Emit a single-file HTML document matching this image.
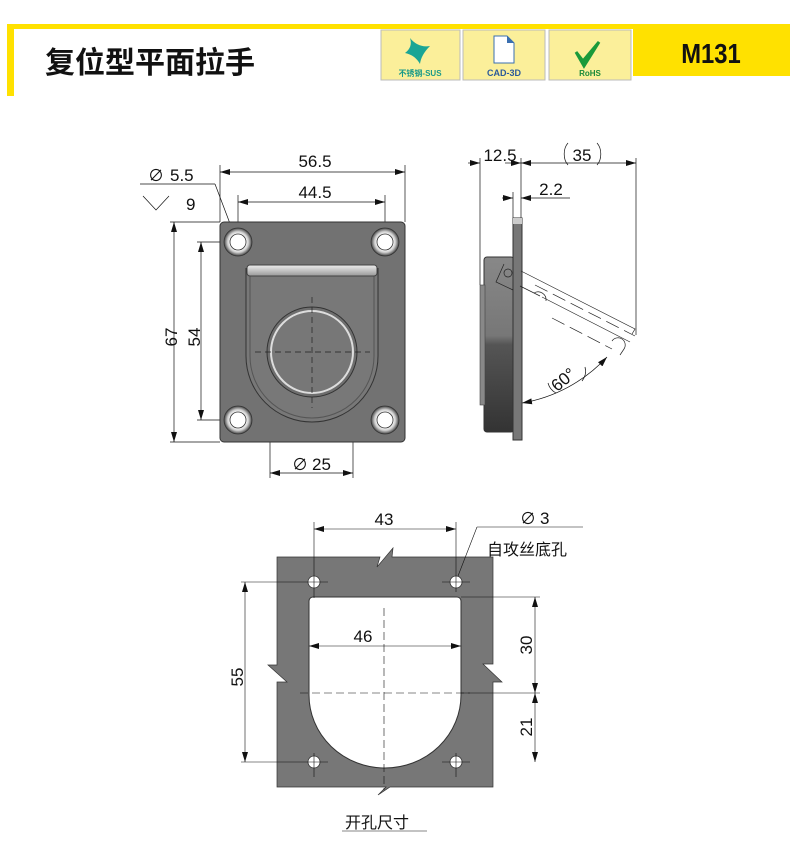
<!DOCTYPE html>
<html><head><meta charset="utf-8"><style>
html,body{margin:0;padding:0;background:#fff;}
svg{display:block;}
text{font-family:"Liberation Sans","Noto Sans CJK SC",sans-serif;fill:#111;}
</style></head><body>
<svg width="790" height="860" viewBox="0 0 790 860" xmlns="http://www.w3.org/2000/svg">
<defs>
<marker id="a" viewBox="0 0 10 6" refX="10" refY="3" markerWidth="10" markerHeight="6" orient="auto-start-reverse" markerUnits="userSpaceOnUse"><path d="M0,0L10,3L0,6z" fill="#111"/></marker>
<linearGradient id="bar" x1="0" y1="0" x2="0" y2="1"><stop offset="0" stop-color="#eee"/><stop offset="1" stop-color="#999"/></linearGradient>
<linearGradient id="body" x1="0" y1="0" x2="0" y2="1"><stop offset="0" stop-color="#888"/><stop offset="0.45" stop-color="#777"/><stop offset="0.5" stop-color="#555"/><stop offset="1" stop-color="#333"/></linearGradient>
<radialGradient id="hole"><stop offset="0.55" stop-color="#fff"/><stop offset="0.75" stop-color="#ccc"/><stop offset="1" stop-color="#444"/></radialGradient>
</defs>
<!-- header -->
<rect x="7" y="24" width="783" height="5" fill="#ffe100"/>
<rect x="7" y="24" width="7" height="72" fill="#ffe100"/>
<text x="45" y="73" font-size="30" font-weight="bold" style="font-family:'Noto Sans CJK SC',sans-serif">复位型平面拉手</text>
<rect x="381" y="30" width="79" height="50" fill="#fbef9a" stroke="#bbb"/>
<rect x="463" y="30" width="82" height="50" fill="#fbef9a" stroke="#bbb"/>
<rect x="549" y="30" width="82" height="50" fill="#fbef9a" stroke="#bbb"/>
<path d="M410,38 Q418,48 430,46 Q421,55 420,64 Q415,55 405,53 Q413,47 410,38z" fill="#1aa595"/>
<text x="420" y="76" font-size="8" text-anchor="middle" style="fill:#1a9a8a;font-weight:bold">不锈钢-SUS</text>
<path d="M494,36h13l7,7v20h-20z" fill="#fff" stroke="#3a6fb0"/><path d="M507,36l7,7h-7z" fill="#3a6fb0"/>
<text x="504" y="76" font-size="9" font-weight="bold" text-anchor="middle" style="fill:#2b5a9a">CAD-3D</text>
<path d="M576,52l7,9l16,-19l-15,24z" fill="#1a9a3a" stroke="#1a9a3a" stroke-width="3"/>
<text x="590" y="76" font-size="8" font-weight="bold" text-anchor="middle" style="fill:#1a8a3a">RoHS</text>
<rect x="633" y="28" width="157" height="48" fill="#ffe100"/>
<text x="711" y="63" font-size="28" font-weight="bold" text-anchor="middle" transform="translate(711,0) scale(0.85,1) translate(-711,0)">M131</text>

<!-- front view -->
<g stroke="#111" stroke-width="0.7" fill="none">
<line x1="220" y1="165" x2="220" y2="222"/><line x1="405" y1="165" x2="405" y2="222"/>
<line x1="220" y1="172" x2="405" y2="172" marker-start="url(#a)" marker-end="url(#a)"/>
<line x1="238" y1="195" x2="238" y2="232"/><line x1="385" y1="195" x2="385" y2="232"/>
<line x1="238" y1="202" x2="385" y2="202" marker-start="url(#a)" marker-end="url(#a)"/>
<line x1="140" y1="184" x2="215" y2="184"/><line x1="215" y1="184" x2="240" y2="250"/>
<path d="M143,196l13,14l13,-14"/>
<line x1="170" y1="222" x2="220" y2="222"/><line x1="170" y1="442" x2="220" y2="442"/>
<line x1="174" y1="222" x2="174" y2="442" marker-start="url(#a)" marker-end="url(#a)"/>
<line x1="197" y1="242" x2="228" y2="242"/><line x1="197" y1="420" x2="228" y2="420"/>
<line x1="201" y1="242" x2="201" y2="420" marker-start="url(#a)" marker-end="url(#a)"/>
<line x1="270" y1="352" x2="270" y2="478"/><line x1="353" y1="352" x2="353" y2="478"/>
<line x1="270" y1="473" x2="353" y2="473" marker-start="url(#a)" marker-end="url(#a)"/>
</g>
<rect x="220" y="222" width="185" height="220" rx="4" fill="#727272" stroke="#333"/>
<g stroke="#333" stroke-width="0.8">
<circle cx="238" cy="242" r="14" fill="url(#hole)"/><circle cx="385" cy="242" r="14" fill="url(#hole)"/>
<circle cx="238" cy="420" r="14" fill="url(#hole)"/><circle cx="385" cy="420" r="14" fill="url(#hole)"/>
<circle cx="238" cy="242" r="8" fill="#fff"/><circle cx="385" cy="242" r="8" fill="#fff"/>
<circle cx="238" cy="420" r="8" fill="#fff"/><circle cx="385" cy="420" r="8" fill="#fff"/>
</g>
<path d="M246,268v88a66,66 0 0 0 132,0v-88" fill="#787878" stroke="#333"/>
<path d="M250,270v86a62,62 0 0 0 124,0v-86" fill="none" stroke="#555"/>
<rect x="247" y="265" width="130" height="11" rx="3" fill="url(#bar)" stroke="#444"/>
<circle cx="312" cy="352" r="45" fill="#6e6e6e" stroke="#333"/>
<circle cx="312" cy="352" r="41" fill="#777" stroke="#ddd" stroke-width="2"/>
<g stroke="#222" stroke-width="0.7" stroke-dasharray="6,4"><line x1="312" y1="297" x2="312" y2="408"/><line x1="255" y1="352" x2="370" y2="352"/></g>
<g font-size="17">
<text x="315" y="167" text-anchor="middle">56.5</text>
<text x="315" y="198" text-anchor="middle">44.5</text>
<text x="170" y="181">5.5</text>
<text x="148" y="181" font-size="16">∅</text>
<text x="186" y="210">9</text>
<text transform="translate(177,337) rotate(-90)" text-anchor="middle">67</text>
<text transform="translate(200,337) rotate(-90)" text-anchor="middle">54</text>
<text x="292" y="470" font-size="16">∅</text><text x="312" y="470">25</text>
</g>

<!-- side view -->
<g stroke="#111" stroke-width="0.7" fill="none">
<line x1="480" y1="158" x2="480" y2="285"/><line x1="521" y1="158" x2="521" y2="218"/>
<line x1="636" y1="158" x2="636" y2="335"/>
<line x1="468" y1="163" x2="480" y2="163" marker-end="url(#a)"/>
<line x1="521" y1="163" x2="636" y2="163" marker-start="url(#a)" marker-end="url(#a)"/>
<line x1="505" y1="163" x2="521" y2="163" marker-end="url(#a)"/>
<line x1="513" y1="192" x2="513" y2="218"/>
<line x1="502" y1="198" x2="513" y2="198" marker-end="url(#a)"/>
<line x1="521" y1="198" x2="570" y2="198" marker-start="url(#a)"/>
<path d="M568,143a10,14 0 0 0 0,22"/><path d="M597,143a10,14 0 0 1 0,22"/>
<path d="M522,403 A150,150 0 0 0 607,357" marker-start="url(#a)" marker-end="url(#a)"/>
<path d="M548,383a16,16 0 0 0 8,10"/><path d="M585,367a16,16 0 0 1 -3,14"/>
</g>
<rect x="484" y="257" width="30" height="175" rx="3" fill="url(#body)" stroke="#333"/>
<rect x="480" y="285" width="5" height="120" fill="#888" stroke="#444" stroke-width="0.6"/>
<rect x="513" y="218" width="9" height="222" fill="#777" stroke="#333"/>
<rect x="513" y="218" width="9" height="6" fill="#ccc"/>
<g stroke="#222" stroke-width="0.7" fill="none">
<path d="M504,264l-8,18l17,8"/>
<circle cx="508" cy="273" r="4"/>
<path d="M521,271l114,58l-3,5M520,286l20,10"/>
<path d="M542,297l88,45"/>
<path d="M535,285l100,51M552,318l60,31" stroke-dasharray="14,6"/>
<path d="M534,293a8,8 0 0 1 12,8M612,341a7,7 0 0 1 12,8l-4,6"/>
</g>
<g font-size="17">
<text x="500" y="161" text-anchor="middle">12.5</text>
<text x="582" y="161" text-anchor="middle">35</text>
<text x="551" y="195" text-anchor="middle">2.2</text>
<text transform="translate(567,384) rotate(-40)" text-anchor="middle">60°</text>
</g>

<!-- cutout -->
<path d="M277,557H380L377,567L393,548L392,557H493V664H483L502,682H493V787H390L378,795L386,787H277V682H287L268,665H277z" fill="#777" stroke="#333" stroke-width="0.7"/>
<path d="M313,597H457a4,4 0 0 1 4,4V695A76,73 0 0 1 309,695V601a4,4 0 0 1 4,-4z" fill="#fff" stroke="#333"/>
<g fill="#fff" stroke="#333" stroke-width="0.8">
<circle cx="314" cy="582" r="6"/><circle cx="456" cy="582" r="6"/><circle cx="314" cy="762" r="6"/><circle cx="456" cy="762" r="6"/>
</g>
<g stroke="#111" stroke-width="0.6" fill="none">
<path d="M314,522v76M456,522v70M314,753v24M456,753v24M300,582h28M442,582h28M300,762h28M442,762h28"/>
<line x1="314" y1="529" x2="456" y2="529" marker-start="url(#a)" marker-end="url(#a)"/>
<path d="M477,527H583M477,527L458,576" />
<line x1="241" y1="582" x2="300" y2="582"/><line x1="241" y1="762" x2="300" y2="762"/>
<line x1="245" y1="582" x2="245" y2="762" marker-start="url(#a)" marker-end="url(#a)"/>
<line x1="461" y1="597" x2="540" y2="597"/><line x1="461" y1="693" x2="540" y2="693"/>
<line x1="535" y1="597" x2="535" y2="693" marker-start="url(#a)" marker-end="url(#a)"/>
<line x1="535" y1="693" x2="535" y2="762" marker-start="url(#a)" marker-end="url(#a)"/>
<line x1="309" y1="646" x2="461" y2="646" marker-start="url(#a)" marker-end="url(#a)"/>
<path d="M384,608V790M300,693H470" stroke-dasharray="8,4"/>
<line x1="342" y1="831" x2="427" y2="831"/>
</g>
<g font-size="17">
<text x="384" y="525" text-anchor="middle">43</text>
<text x="520" y="524" font-size="16">∅</text><text x="540" y="524">3</text>
<text x="487" y="555" font-size="16">自攻丝底孔</text>
<text transform="translate(243,677) rotate(-90)" text-anchor="middle">55</text>
<text transform="translate(532,645) rotate(-90)" text-anchor="middle">30</text>
<text transform="translate(532,727) rotate(-90)" text-anchor="middle">21</text>
<text x="363" y="642" text-anchor="middle">46</text>
<text x="345" y="828" font-size="16">开孔尺寸</text>
</g>
</svg>
</body></html>
